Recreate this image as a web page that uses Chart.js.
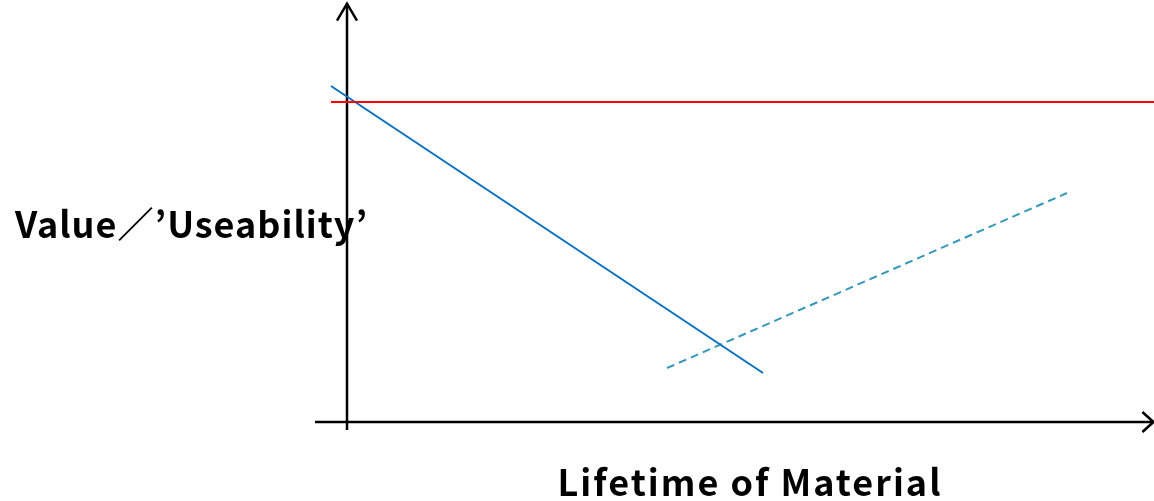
<!DOCTYPE html>
<html>
<head>
<meta charset="utf-8">
<script src="https://cdn.jsdelivr.net/npm/chart.js@4/dist/chart.umd.min.js"></script>
<style>
    html, body { margin: 0; padding: 0; background: #fff; }
    #wrap { position: relative; width: 1154px; height: 501px; overflow: hidden; }
    #chart { position: absolute; left: 0; top: 0; }
    .lbl { position: absolute; font-family: "Noto Sans CJK JP", "DejaVu Sans", sans-serif; font-weight: bold; color: #000; white-space: nowrap; line-height: 1; font-size: 36px; }
    #ylabel { left: 15px; top: 204px; letter-spacing: 1px; }
    #xlabel { left: 0; width: 1500px; top: 462px; text-align: center; letter-spacing: 2px; }
</style>
</head>
<body>
<div id="wrap">
    <canvas id="chart" width="1154" height="501"></canvas>
    <div class="lbl" id="ylabel">Value／’Useability’</div>
    <div class="lbl" id="xlabel">Lifetime of Material</div>
</div>
<script>
// axis domain (origin where the two arrows meet)
const xMin = -43.375, xMax = 100.875;
const yMin = -19.75, yMax = 105.5;

// value falls as the material wears
const wearX = [-2, 52];
const wearY = [84, 12.25];

// value recovered after reuse / repair
const reuseX = [40, 90];
const reuseY = [13.5, 57.25];

// threshold of useful value
const limitX = [-2, xMax];
const limitY = [80, 80];

// extent of the drawn axes
const axisX = [-4, 100.8];
const axisY = [-2, 104.6];

function pts(xs, ys) {
    return xs.map((x, i) => ({ x: x, y: ys[i] }));
}

const arrowAxes = {
    id: 'arrowAxes',
    beforeDatasetsDraw(chart) {
        const ctx = chart.ctx;
        const sx = chart.scales.x, sy = chart.scales.y;
        const ox = sx.getPixelForValue(0), oy = sy.getPixelForValue(0);
        const x0 = sx.getPixelForValue(axisX[0]), x1 = sx.getPixelForValue(axisX[1]);
        const y0 = sy.getPixelForValue(axisY[0]), y1 = sy.getPixelForValue(axisY[1]);
        ctx.save();
        ctx.strokeStyle = '#000';
        ctx.lineWidth = 2.5;
        ctx.lineCap = 'butt';
        ctx.beginPath();
        ctx.moveTo(x0, oy); ctx.lineTo(x1, oy);
        ctx.moveTo(ox, y0); ctx.lineTo(ox, y1);
        ctx.stroke();
        // arrow heads
        ctx.lineJoin = 'miter';
        ctx.beginPath();
        ctx.moveTo(x1 - 11, oy - 10); ctx.lineTo(x1, oy); ctx.lineTo(x1 - 11, oy + 10);
        ctx.moveTo(ox - 10, y1 + 17); ctx.lineTo(ox, y1); ctx.lineTo(ox + 10, y1 + 17);
        ctx.stroke();
        ctx.restore();
    }
};

new Chart(document.getElementById('chart'), {
    type: 'line',
    data: {
        datasets: [
            {
                data: pts(limitX, limitY),
                borderColor: '#ff0000',
                borderWidth: 2,
                pointRadius: 0
            },
            {
                data: pts(wearX, wearY),
                borderColor: '#0a70c0',
                borderWidth: 2,
                pointRadius: 0
            },
            {
                data: pts(reuseX, reuseY),
                borderColor: '#3598ba',
                borderWidth: 2,
                borderDash: [8, 5],
                pointRadius: 0
            }
        ]
    },
    options: {
        responsive: false,
        animation: false,
        layout: { padding: 0 },
        scales: {
            x: { type: 'linear', min: xMin, max: xMax, display: false },
            y: { type: 'linear', min: yMin, max: yMax, display: false }
        },
        plugins: {
            legend: { display: false },
            tooltip: { enabled: false }
        }
    },
    plugins: [arrowAxes]
});
</script>
</body>
</html>
